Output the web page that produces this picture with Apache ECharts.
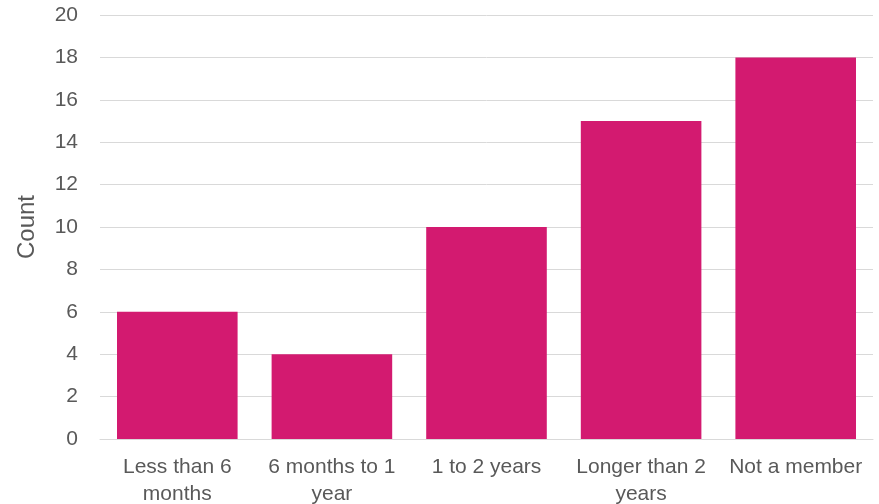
<!DOCTYPE html>
<html><head><meta charset="utf-8">
<script src="https://cdn.jsdelivr.net/npm/echarts@6/dist/echarts.min.js"></script>
<style>html,body{margin:0;padding:0;background:#fff}#c{width:879px;height:504px}</style>
</head><body><div id="c"></div>
<script>
const categories = ["Less than 6\nmonths", "6 months to 1\nyear", "1 to 2 years", "Longer than 2\nyears", "Not a member"];
const counts = [6, 4, 10, 15, 18];
const yTitle = "Count";

const chart = echarts.init(document.getElementById('c'), null, {renderer: 'canvas'});
chart.setOption({
  animation: false,
  grid: {left: 100, right: 6, top: 15, bottom: 65, containLabel: false, outerBoundsMode: 'none'},
  xAxis: {
    type: 'category', data: categories,
    axisLine: {lineStyle: {color: '#d9d9d9', width: 1}},
    axisTick: {show: false},
    axisLabel: {color: '#595959', fontFamily: 'Liberation Sans, Arial, sans-serif', fontSize: 21, lineHeight: 27, margin: 15, interval: 0}
  },
  yAxis: {
    type: 'value', min: 0, max: 20, interval: 2,
    name: yTitle, nameLocation: 'middle', nameGap: 61,
    nameTextStyle: {color: '#595959', fontFamily: 'Liberation Sans, Arial, sans-serif', fontSize: 24},
    axisLine: {show: false}, axisTick: {show: false},
    axisLabel: {color: '#595959', fontFamily: 'Liberation Sans, Arial, sans-serif', fontSize: 21, margin: 22},
    splitLine: {lineStyle: {color: '#d9d9d9', width: 1}}
  },
  series: [{
    type: 'bar', data: counts, barCategoryGap: '22%',
    itemStyle: {color: '#D31A70'}
  }]
});
</script></body></html>
